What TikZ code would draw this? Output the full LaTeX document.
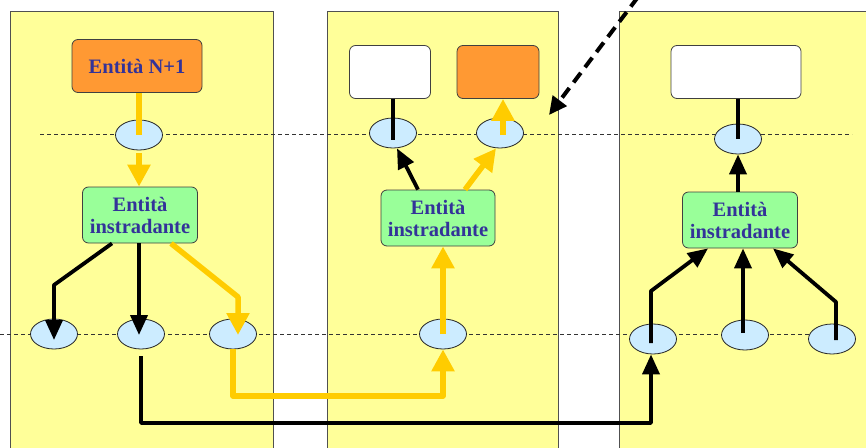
\documentclass[tikz,border=0pt]{standalone}
\usepackage{fontspec}
\setmainfont{Liberation Serif}
\usetikzlibrary{arrows.meta,shapes.geometric}
\definecolor{panelyel}{HTML}{FFFF99}
\definecolor{panelline}{HTML}{505050}
\definecolor{boxorange}{HTML}{FF9933}
\definecolor{boxgreen}{HTML}{99FF99}
\definecolor{saplight}{HTML}{CCECFF}
\definecolor{flowyel}{HTML}{FFCC00}
\definecolor{txtblue}{HTML}{333399}
\tikzset{
  panel/.style={draw=panelline, line width=1.2pt, fill=panelyel, anchor=north west, inner sep=0pt},
  rbox/.style={draw=black!75, line width=0.8pt, rounded corners=6pt, inner sep=0pt, minimum height=53pt},
  orangebox/.style={rbox, fill=boxorange},
  whitebox/.style={rbox, fill=white},
  greenbox/.style={rbox, fill=boxgreen, minimum height=56pt, minimum width=115pt,
     align=center, text=txtblue, font=\fontsize{20.5}{22}\selectfont\bfseries},
  sap/.style={ellipse, draw=black!85, line width=0.8pt, fill=saplight, inner sep=0pt,
     minimum width=47pt, minimum height=30pt},
  layerline/.style={draw=black!80, line width=0.8pt, dash pattern=on 4pt off 3pt},
  yflow/.style={draw=flowyel, line width=5.5pt, line join=round},
  yarrow/.style={yflow, -{Triangle[width=22pt,length=22pt]}},
  bflow/.style={draw=black, line width=3.8pt, line join=round},
  barrow/.style={bflow, -{Triangle[width=17pt,length=20pt]}},
  bigdash/.style={draw=black, line width=4pt, dash pattern=on 12pt off 7pt, -{Triangle[width=17pt,length=18pt]}}
}
\begin{document}
\begin{tikzpicture}[x=1pt,y=-1pt]
\useasboundingbox (0,0) rectangle (866,447);
\clip (0,0) rectangle (866,447);
% panels
\node[panel, minimum width=263pt, minimum height=460pt] (p1) at (10,11) {};
\node[panel, minimum width=231pt, minimum height=460pt] (p2) at (327,11) {};
\node[panel, minimum width=270pt, minimum height=460pt] (p3) at (619,11) {};
% layer lines
\coordinate (lt1) at (40,134);
\coordinate (lt2) at (852,134);
\coordinate (lb1) at (0,334);
\coordinate (lb2) at (832,334);
\draw[layerline] (lt1) -- (lt2);
\draw[layerline] (lb1) -- (lb2);
% panel 1
\node[orangebox, minimum width=130pt, text=txtblue, font=\fontsize{20.5}{22}\selectfont\bfseries] (n1) at (137,66) {Entità N+1};
\node[sap] (e1) at (139,135) {};
\node[greenbox] (g1) at (140,215) {Entità\\instradante};
\node[sap] (e2) at (54,334) {};
\node[sap] (e3) at (141,334) {};
\node[sap] (e4) at (233,334) {};
% panel 2
\node[whitebox, minimum width=81pt] (w2) at (390,72) {};
\node[orangebox, minimum width=82pt] (o2) at (498,72) {};
\node[sap] (e5) at (393,133) {};
\node[sap] (e6) at (500,133) {};
\node[greenbox, minimum width=114pt] (g2) at (438,218) {Entità\\instradante};
\node[sap] (e7) at (443,334) {};
% panel 3
\node[whitebox, minimum width=130pt] (w3) at (736,72) {};
\node[sap] (e8) at (738,139) {};
\node[greenbox] (g3) at (740,220) {Entità\\instradante};
\node[sap] (e9) at (653,339) {};
\node[sap] (e10) at (745,335) {};
\node[sap] (e11) at (832,339) {};
% connectors panel 1
\draw[yflow] (e1 |- n1.south) -- (e1.center);
\draw[yarrow] ([yshift=-3pt]e1.south) -- (e1 |- g1.north);
\draw[barrow] ([xshift=-28pt]g1.south) -- (e2 |- 0,285) -- ([yshift=-6pt]e2.center);
\draw[barrow] ([xshift=-1pt]g1.south) -- ([xshift=-2pt,yshift=-1pt]e3.center);
\draw[yarrow] ([xshift=31pt]g1.south) -- ([xshift=5pt]e4 |- 0,297) -- ([xshift=5pt,yshift=-1pt]e4.center);
% panel 1 -> panel 2 / panel 3
\draw[yarrow] (e4.south) -- (e4 |- 0,396) -- (e7 |- 0,396) -- (e7.south);
\draw[barrow] ([yshift=-7pt]e3.south) -- (e3 |- 0,423) -- ([xshift=-2pt]e9 |- 0,423) -- ([xshift=-2pt]e9.south);
% connectors panel 2
\draw[bflow] (e5 |- w2.south) -- ([yshift=-7pt]e5.center);
\draw[yarrow] ([xshift=3pt,yshift=-2pt]e6.center) -- ([xshift=3pt]e6 |- o2.south);
\draw[barrow] ([xshift=-20pt]g2.north) -- ([xshift=4pt]e5.south);
\draw[yarrow] ([xshift=27pt]g2.north) -- ([xshift=-4pt]e6.south);
\draw[yarrow] (e7.center) -- (e7 |- g2.south);
% connectors panel 3
\draw[bflow] (e8 |- w3.south) -- (e8.center);
\draw[barrow] (e8 |- g3.north) -- (e8.south);
\draw[barrow] ([xshift=-2pt,yshift=-4pt]e9.center) -- ([xshift=-2pt]e9 |- 0,291) -- ([xshift=-32pt]g3.south);
\draw[barrow] ([xshift=-2pt,yshift=2pt]e10.center) -- ([xshift=-2pt]e10 |- g3.south);
\draw[barrow] ([xshift=4pt,yshift=-1pt]e11.center) -- ([xshift=4pt]e11 |- 0,302) -- ([xshift=33pt]g3.south);
% dashed arrow
\coordinate (ds) at (638,-3);
\coordinate (dt) at (549,115);
\draw[bigdash] (ds) -- (dt);
\end{tikzpicture}
\end{document}
